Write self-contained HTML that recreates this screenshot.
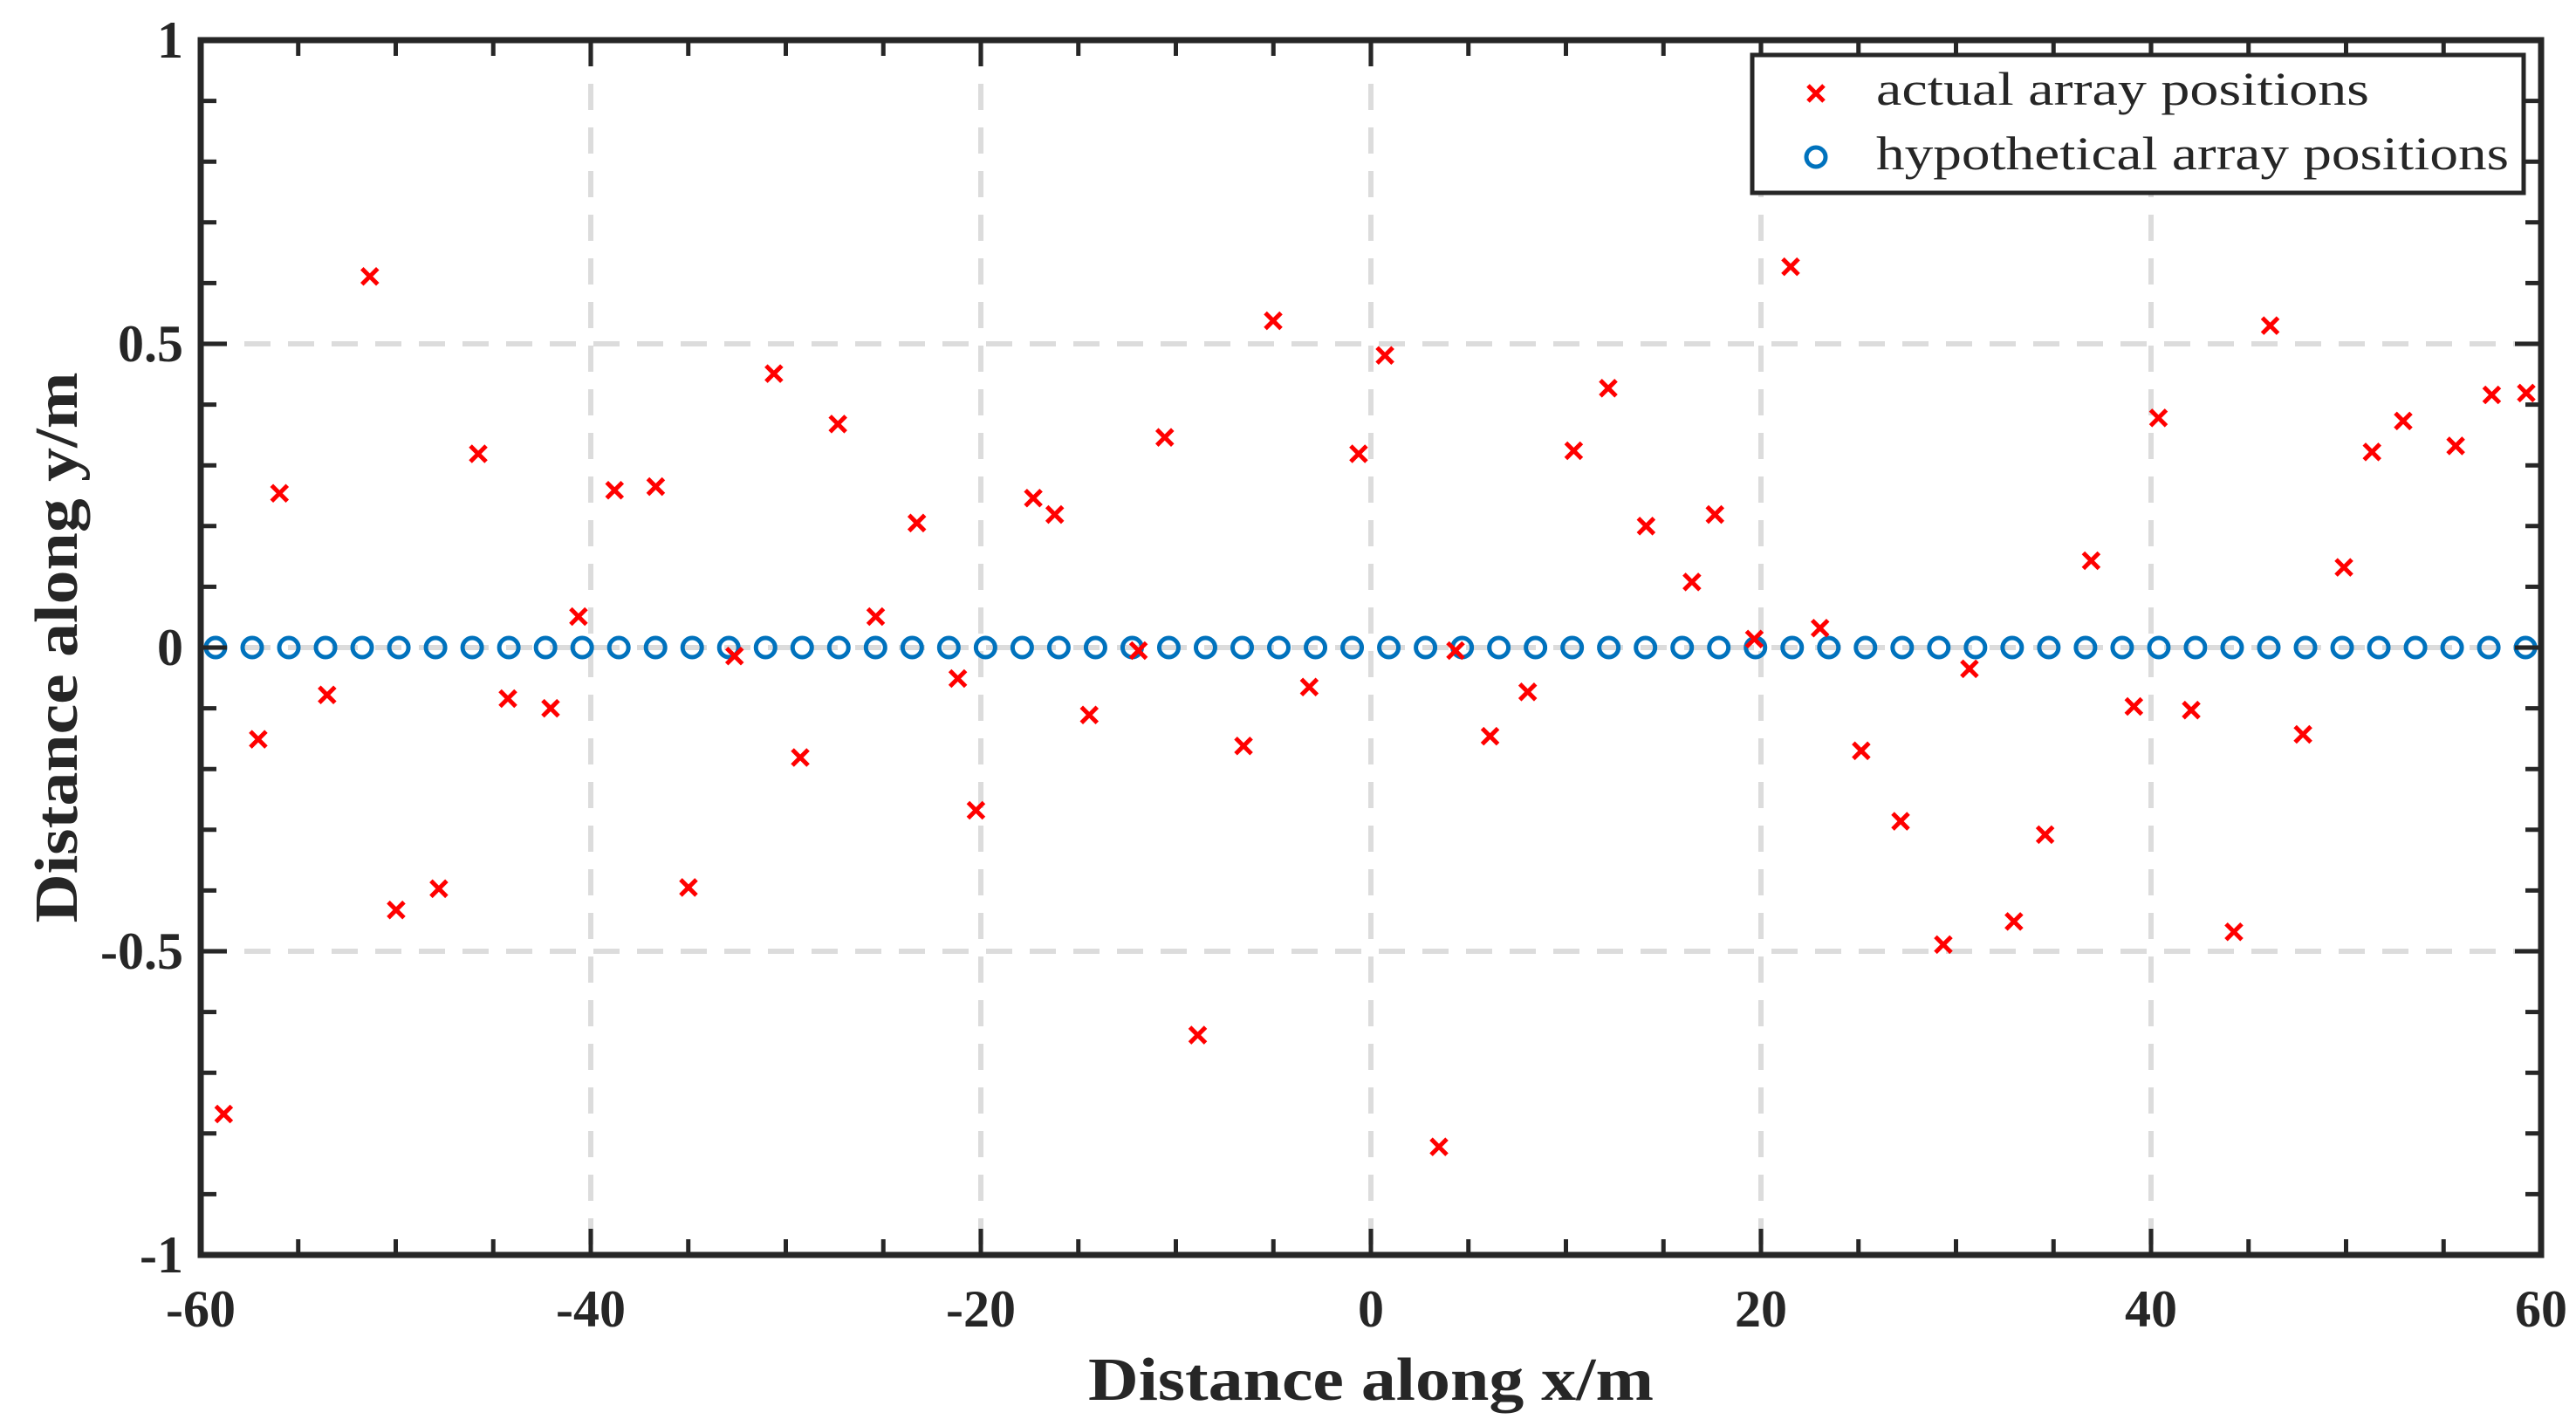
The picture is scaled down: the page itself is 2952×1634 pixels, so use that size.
<!DOCTYPE html>
<html><head><meta charset="utf-8"><style>
html,body{margin:0;padding:0;background:#fff;}
svg{display:block;}
text{font-family:"Liberation Serif",serif;fill:#262626;}
</style></head><body>
<svg id="chart" width="2952" height="1634" viewBox="0 0 2952 1634" xmlns="http://www.w3.org/2000/svg">
<rect width="2952" height="1634" fill="#fff"/>
<g id="grid"></g>
<g id="series"></g>
<g id="axes"></g>
<text x="1571" y="1604" font-size="70" font-weight="bold" text-anchor="middle" textLength="648" lengthAdjust="spacingAndGlyphs">Distance along x/m</text>
<text x="0" y="0" font-size="70" font-weight="bold" text-anchor="middle" textLength="631" lengthAdjust="spacingAndGlyphs" transform="translate(88,742) rotate(-90)">Distance along y/m</text>
<g>
<rect x="2008" y="63" width="884" height="158" fill="#fff" stroke="#262626" stroke-width="5"/>
<g>
<path d="M2072,98 L2090,116 M2090,98 L2072,116" stroke="#ff0000" stroke-width="5" fill="none"/>
<text x="2150" y="120" font-size="54" textLength="565" lengthAdjust="spacingAndGlyphs">actual array positions</text>
</g>
<g>
<circle cx="2081" cy="180" r="11" fill="none" stroke="#0072bd" stroke-width="5"/>
<text x="2150" y="194" font-size="54" textLength="725" lengthAdjust="spacingAndGlyphs">hypothetical array positions</text>
</g>
</g>
</svg>
<script>
const xTicks = [-60,-40,-20,0,20,40,60];
const yTicks = [-1,-0.5,0,0.5,1];
const yTickLabels = ["-1","-0.5","0","0.5","1"];
const actualX = [-58.82,-57.05,-55.96,-53.52,-51.33,-49.98,-47.79,-45.77,-44.25,-42.06,-40.63,-38.78,-36.67,-34.99,-32.63,-30.61,-29.26,-27.33,-25.39,-23.28,-21.18,-20.25,-17.31,-16.21,-14.44,-11.92,-10.57,-8.88,-6.53,-5.01,-3.16,-0.63,0.72,3.49,4.34,6.11,8.04,10.40,12.17,14.11,16.46,17.64,19.66,21.52,23.03,25.14,27.16,29.35,30.69,32.97,34.57,36.93,39.12,40.38,42.06,44.25,46.11,47.79,49.89,51.33,52.93,55.62,57.47,59.24];
const actualY = [-0.768,-0.151,0.254,-0.078,0.611,-0.432,-0.397,0.319,-0.084,-0.100,0.051,0.259,0.265,-0.395,-0.014,0.451,-0.181,0.368,0.051,0.205,-0.051,-0.268,0.246,0.219,-0.111,-0.005,0.346,-0.638,-0.162,0.538,-0.065,0.319,0.481,-0.822,-0.005,-0.146,-0.073,0.324,0.427,0.200,0.108,0.219,0.014,0.627,0.032,-0.170,-0.286,-0.489,-0.035,-0.451,-0.308,0.143,-0.097,0.378,-0.103,-0.468,0.530,-0.143,0.132,0.322,0.373,0.332,0.416,0.419];
const hypoX = [-59.24,-57.36,-55.48,-53.60,-51.72,-49.84,-47.96,-46.08,-44.20,-42.32,-40.44,-38.56,-36.68,-34.80,-32.92,-31.04,-29.16,-27.28,-25.40,-23.52,-21.64,-19.76,-17.88,-16.00,-14.12,-12.24,-10.36,-8.48,-6.60,-4.72,-2.84,-0.96,0.92,2.80,4.68,6.56,8.44,10.32,12.20,14.08,15.96,17.84,19.72,21.60,23.48,25.36,27.24,29.12,31.00,32.88,34.76,36.64,38.52,40.40,42.28,44.16,46.04,47.92,49.80,51.68,53.56,55.44,57.32,59.20];
const hypoY = [0,0,0,0,0,0,0,0,0,0,0,0,0,0,0,0,0,0,0,0,0,0,0,0,0,0,0,0,0,0,0,0,0,0,0,0,0,0,0,0,0,0,0,0,0,0,0,0,0,0,0,0,0,0,0,0,0,0,0,0,0,0,0,0];

const NS="http://www.w3.org/2000/svg";
const L=230,R=2912,T=46,B=1438;
const xMin=-60,xMax=60,yMin=-1,yMax=1;
function sx(v){return L+(v-xMin)/(xMax-xMin)*(R-L);}
function sy(v){return B-(v-yMin)/(yMax-yMin)*(B-T);}
function mk(tag,attrs,parent){const e=document.createElementNS(NS,tag);for(const k in attrs)e.setAttribute(k,attrs[k]);parent.appendChild(e);return e;}
const grid=document.getElementById('grid'),series=document.getElementById('series'),axes=document.getElementById('axes');

xTicks.forEach(v=>{if(v===xMin||v===xMax)return;
 const g=mk('line',{x1:sx(v),x2:sx(v),y1:T,y2:B,stroke:'#dcdcdc','stroke-width':6,'stroke-dasharray':'30,20'},grid);
 
 });
yTicks.forEach(v=>{if(v===yMin||v===yMax)return;
 const g=mk('line',{x1:L,x2:R,y1:sy(v),y2:sy(v),stroke:'#dcdcdc','stroke-width':6,'stroke-dasharray':'30,20'},grid);
 
 });

hypoX.forEach((x,i)=>{
 const c=mk('circle',{cx:sx(x),cy:sy(hypoY[i]),r:11,fill:'none',stroke:'#0072bd','stroke-width':5},series);
 
 });
actualX.forEach((x,i)=>{
 const px=sx(x),py=sy(actualY[i]),s=9;
 const p=mk('path',{d:`M${px-s},${py-s} L${px+s},${py+s} M${px+s},${py-s} L${px-s},${py+s}`,stroke:'#ff0000','stroke-width':5,fill:'none'},series);
 
 });

for(let v=xMin;v<=xMax;v+=5){
 const len=(v%20===0)?30:18,x=sx(v);
 const t1=mk('line',{x1:x,x2:x,y1:B,y2:B-len,stroke:'#262626','stroke-width':5},axes);
 
 
 const t2=mk('line',{x1:x,x2:x,y1:T,y2:T+len,stroke:'#262626','stroke-width':5},axes);
 
 }
for(let k=-10;k<=10;k++){
 const v=k/10,len=(k%5===0)?30:18,y=sy(v);
 const t1=mk('line',{x1:L,x2:L+len,y1:y,y2:y,stroke:'#262626','stroke-width':5},axes);
 
 
 const t2=mk('line',{x1:R,x2:R-len,y1:y,y2:y,stroke:'#262626','stroke-width':5},axes);
 
 }
const frame=mk('rect',{x:L,y:T,width:R-L,height:B-T,fill:'none',stroke:'#262626','stroke-width':7},axes);



xTicks.forEach(v=>{
 const t=mk('text',{x:sx(v),y:1520,'font-size':60,'font-weight':'bold','text-anchor':'middle'},axes);
 t.textContent=String(v);
 
 });
yTicks.forEach((v,i)=>{
 const t=mk('text',{x:210,y:sy(v)+20,'font-size':60,'font-weight':'bold','text-anchor':'end'},axes);
 t.textContent=yTickLabels[i];
 
 });
</script>
</body></html>
